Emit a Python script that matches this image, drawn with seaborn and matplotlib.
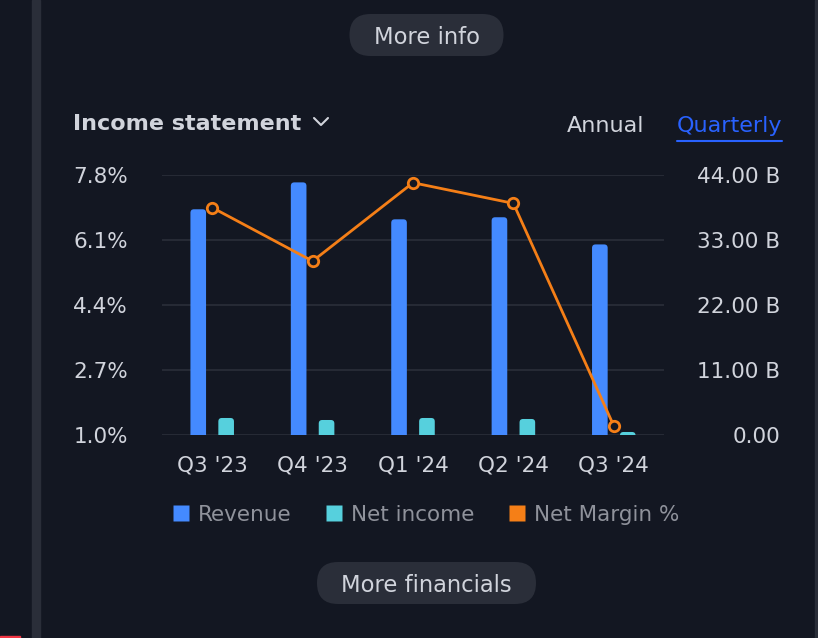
import numpy as np
import pandas as pd
import matplotlib.pyplot as plt
import seaborn as sb
from matplotlib.patches import FancyBboxPatch, Rectangle
from matplotlib.lines import Line2D

# data
quarters = ["Q3 '23", "Q4 '23", "Q1 '24", "Q2 '24", "Q3 '24"]
revenue = [38.15, 42.70, 36.45, 36.80, 32.20]     # B
net_income = [2.83, 2.49, 2.83, 2.66, 0.46]       # B
net_margin = [6.94, 5.54, 7.59, 7.05, 1.23]       # %

pct_ticks = [1.0, 2.7, 4.4, 6.1, 7.8]
bil_ticks = [0, 11, 22, 33, 44]
bil_labels = ["0.00", "11.00 B", "22.00 B", "33.00 B", "44.00 B"]
legend_names = ["Revenue", "Net income", "Net Margin %"]

BG = "#131722"
PANEL = "#2a2e39"
TXT = "#d1d4dc"
GREY = "#8f929b"
BLUE = "#448aff"
CYAN = "#56d0dd"
ORANGE = "#f57f17"

sb.set_style("dark", {"axes.facecolor": BG, "figure.facecolor": BG})
plt.rcParams["font.family"] = ["DejaVu Sans"]

W, H = 818, 638
fig = plt.figure(figsize=(W / 100, H / 100), dpi=100)

# background layer in pixel coordinates
bg = fig.add_axes([0, 0, 1, 1], zorder=0)
bg.set_xlim(0, W)
bg.set_ylim(H, 0)
bg.axis("off")
bg.add_patch(Rectangle((32, 0), 8, H, color=PANEL))
bg.add_patch(Rectangle((815, 0), 1.5, H, color=PANEL))
bg.add_patch(Rectangle((0, 635.5), 20, 3, color="#f23645"))


def pill(x, y, w, h, label):
    bg.add_patch(FancyBboxPatch((x, y), w, h, boxstyle="round,pad=0,rounding_size=%f" % (h / 2),
                                fc=PANEL, ec="none"))
    bg.text(x + w / 2, y + h / 2 + 8.5, label, color=TXT, fontsize=16.3, ha="center", va="baseline")


pill(349.5, 14, 154, 42, "More info")
pill(317, 562, 219, 42, "More financials")

bg.text(73, 130, "Income statement", color=TXT, fontsize=16, fontweight="bold", va="baseline")
bg.plot([314, 321, 328], [118, 125, 118], color=TXT, lw=1.5, solid_capstyle="round")
bg.text(567, 131.5, "Annual", color=TXT, fontsize=16, va="baseline")
bg.text(676.5, 131.5, "Quarterly", color="#2962ff", fontsize=16, va="baseline")
bg.plot([676.5, 782], [140.5, 140.5], color="#2962ff", lw=1.5)

# chart axes
L, R, T, B = 162, 664, 174.7, 434.7
ax = fig.add_axes([L / W, 1 - B / H, (R - L) / W, (B - T) / H], zorder=2)
ax.patch.set_alpha(0)
ax2 = ax.twinx()
ax2.set_zorder(3)
ax2.patch.set_visible(False)

df = pd.DataFrame({"quarter": quarters, "Revenue": revenue, "Net income": net_income})
df = df.melt(id_vars="quarter", var_name="metric", value_name="value")
sb.barplot(data=df, x="quarter", y="value", hue="metric", palette=[BLUE, CYAN],
           width=0.556, gap=0.44, saturation=1, ax=ax, legend=False)

ax.set_xlim(-0.5, len(quarters) - 0.5)
ax.set_ylim(0, 44)

# rounded bar tops
asp = (44 / (B - T)) / (len(quarters) / (R - L))
r = 3.5 * len(quarters) / (R - L)
for p in list(ax.patches):
    x0, w, h = p.get_x(), p.get_width(), p.get_height()
    fc = p.get_facecolor()
    p.remove()
    ax.add_patch(FancyBboxPatch((x0, -0.8), w, h + 0.8, boxstyle="round,pad=0,rounding_size=%f" % r,
                                mutation_aspect=asp, fc=fc, ec="none", clip_on=True))

sb.lineplot(x=np.arange(len(quarters)), y=net_margin, ax=ax2, color=ORANGE, lw=2,
            marker="o", markersize=7.5, markerfacecolor=BG, markeredgecolor=ORANGE,
            markeredgewidth=2)

# bars -> right scale, margin line -> left scale
ax.yaxis.tick_right()
ax.yaxis.set_label_position("right")
ax2.yaxis.tick_left()
ax2.yaxis.set_label_position("left")

ax.set_yticks(bil_ticks)
ax.set_yticklabels(bil_labels)
for lab in ax.get_yticklabels():
    lab.set_horizontalalignment("right")
ax.tick_params(axis="y", length=0, pad=83.5, labelsize=15.5, labelcolor=TXT)
ax.tick_params(axis="x", length=0, pad=15, labelsize=15.5, labelcolor=TXT)
ax.set_xlabel("")
ax.set_ylabel("")
ax.grid(axis="y", color=PANEL, lw=1.2)
ax.grid(axis="x", visible=False)
ax.set_axisbelow(True)
for s in ax.spines.values():
    s.set_visible(False)

ax2.set_ylim(pct_ticks[0], pct_ticks[-1])
ax2.set_yticks(pct_ticks)
ax2.set_yticklabels(["%.1f%%" % v for v in pct_ticks])
ax2.tick_params(axis="y", length=0, pad=24.5, labelsize=15.5, labelcolor=TXT)
ax2.set_xlim(-0.5, len(quarters) - 0.5)
ax2.set_ylabel("")
for s in ax2.spines.values():
    s.set_visible(False)

handles = [Line2D([], [], ls="none", marker="s", markersize=11.5, markerfacecolor=c, markeredgecolor="none")
           for c in [BLUE, CYAN, ORANGE]]
fig.legend(handles, legend_names, loc="center", bbox_to_anchor=(426 / W, 1 - 515 / H), ncol=3,
           frameon=False, fontsize=15.5, labelcolor=GREY, handlelength=0.75, handletextpad=0.42,
           columnspacing=1.6)

fig.savefig("out.png", dpi=100, facecolor=BG)
